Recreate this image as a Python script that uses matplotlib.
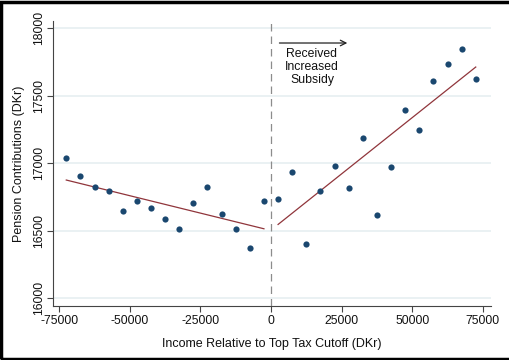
import numpy as np
import matplotlib.pyplot as plt
from matplotlib.patches import Rectangle

# binned scatter: income relative to top tax cutoff vs pension contributions
x_left = [-72500, -67500, -62500, -57500, -52500, -47500, -42500, -37500,
          -32500, -27500, -22500, -17500, -12500, -7500, -2500]
y_left = [17037, 16904, 16822, 16795, 16644, 16720, 16669, 16585,
          16513, 16706, 16820, 16620, 16511, 16368, 16716]
x_right = [2500, 7500, 12500, 17500, 22500, 27500, 32500, 37500,
           42500, 47500, 52500, 57500, 62500, 67500, 72500]
y_right = [16733, 16936, 16397, 16795, 16981, 16817, 17187, 16618,
           16968, 17390, 17244, 17610, 17731, 17847, 17625]

# fitted lines (end points)
fit_left_x = [-72500, -2500]
fit_left_y = [16874, 16513]
fit_right_x = [2500, 72500]
fit_right_y = [16545, 17711]

x_ticks = [-75000, -50000, -25000, 0, 25000, 50000, 75000]
y_ticks = [16000, 16500, 17000, 17500, 18000]

plt.rcParams['font.family'] = ['Liberation Sans', 'DejaVu Sans']

fig = plt.figure(figsize=(5.09, 3.6), dpi=100)
ax = fig.add_axes([53 / 509, 1 - 306 / 360, (491 - 53) / 509, (306 - 21) / 360])

dot = '#1a476f'
red = '#90353b'

for yv in y_ticks:
    ax.axhline(yv, color='#e6eff1', lw=1.2, zorder=0)
ax.axvline(0, color='#8c8c8c', lw=0.9, ls=(0, (6, 4)), zorder=1)

ax.plot(fit_left_x, fit_left_y, color=red, lw=0.9, zorder=2)
ax.plot(fit_right_x, fit_right_y, color=red, lw=0.9, zorder=2)
ax.scatter(x_left + x_right, y_left + y_right, s=20, color=dot, zorder=3,
           linewidths=0)

ax.annotate('', xy=(28000, 17889), xytext=(2000, 17889),
            arrowprops=dict(arrowstyle='->', color='#222222', lw=0.9))
ax.text(14500, 17711, 'Received\nIncreased\nSubsidy', ha='center', va='center',
        fontsize=8.8, linespacing=1.1, color='#111111')

ax.set_xlim(-77200, 77900)
ax.set_ylim(15941, 18052)
ax.set_xticks(x_ticks)
ax.set_xticklabels([str(v) for v in x_ticks])
ax.set_yticks(y_ticks)
ax.set_yticklabels([str(v) for v in y_ticks], rotation=90, va='center')
ax.tick_params(labelsize=8.7, length=4.5, width=0.8, color='#444444',
               labelcolor='#111111')
ax.tick_params(axis='x', pad=2)
ax.tick_params(axis='y', pad=1)
for s in ['top', 'right']:
    ax.spines[s].set_visible(False)
for s in ['left', 'bottom']:
    ax.spines[s].set_color('#444444')
    ax.spines[s].set_linewidth(0.8)

ax.set_xlabel('Income Relative to Top Tax Cutoff (DKr)', fontsize=9,
              color='#111111', labelpad=8)
ax.set_ylabel('Pension Contributions (DKr)', fontsize=9, color='#111111',
              labelpad=6)

# black frame around the picture
fig.patches.append(Rectangle((0.002, 0.004), 1.05, 0.99, transform=fig.transFigure,
                             fill=False, edgecolor='black', lw=2.5))

fig.savefig('out.png', dpi=100)
